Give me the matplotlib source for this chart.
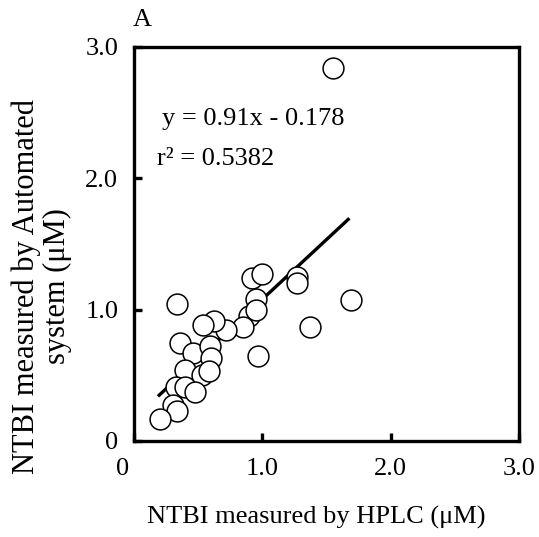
import matplotlib
matplotlib.use("Agg")
import matplotlib.pyplot as plt
import matplotlib.transforms as mtransforms
import numpy as np

plt.rcParams['font.family'] = ['Liberation Serif', 'DejaVu Serif']

# data
hplc = [1.55, 0.925, 0.997, 1.27, 1.27, 1.69, 1.37, 0.97, 0.95, 0.90, 0.95, 0.85,
        0.72, 0.63, 0.54, 0.335, 0.36, 0.465, 0.595, 0.60, 0.40, 0.53, 0.59,
        0.33, 0.40, 0.475, 0.31, 0.335, 0.205]
automated = [2.84, 1.24, 1.27, 1.25, 1.20, 1.07, 0.87, 0.65, 1.08, 0.95, 1.00, 0.87,
             0.845, 0.91, 0.88, 1.04, 0.745, 0.67, 0.72, 0.63, 0.54, 0.50, 0.53,
             0.41, 0.41, 0.375, 0.275, 0.225, 0.17]
fit_slope = 0.91
fit_intercept = 0.167
fit_range = [0.19, 1.68]

x_ticks = [0, 1.0, 2.0, 3.0]
x_tick_labels = ['0', '1.0', '2.0', '3.0']
y_ticks = [0, 1.0, 2.0, 3.0]
y_tick_labels = ['0', '1.0', '2.0', '3.0']

equation_text = 'y = 0.91x - 0.178'
r2_text = 'r² = 0.5382'
panel_label = 'A'
xlabel = 'NTBI measured by HPLC (μM)'
ylabel = 'NTBI measured by Automated\nsystem (μM)'

FS = 19

fig = plt.figure(figsize=(5.39, 5.37), dpi=100)
ax = fig.add_axes([0.2477, 0.1788, 0.7153, 0.7337])

fx = np.linspace(fit_range[0], fit_range[1], 50)
ax.plot(fx, fit_slope * fx + fit_intercept, color='black', lw=2.4, zorder=2,
        solid_capstyle='butt')
ax.plot(hplc, automated, 'o', ms=15, mfc='white', mec='black', mew=1.1,
        zorder=3, clip_on=False)

ax.set_xlim(0, 3.0)
ax.set_ylim(0, 3.0)
ax.set_xticks(x_ticks)
ax.set_xticklabels(x_tick_labels)
ax.set_yticks(y_ticks)
ax.set_yticklabels(y_tick_labels)
for s in ax.spines.values():
    s.set_linewidth(2.4)
ax.tick_params(direction='in', length=6, width=2.4, labelsize=FS, pad=12)
ax.tick_params(axis='y', pad=11)

# shift the x "0" label slightly left, as in the reference
lbl0 = ax.get_xticklabels()[0]
lbl0.set_transform(lbl0.get_transform() + mtransforms.ScaledTranslation(-11/100, 0, fig.dpi_scale_trans))

ax.set_xlabel(xlabel, fontsize=FS)
ax.set_ylabel(ylabel, fontsize=22, linespacing=1.08)
ax.xaxis.set_label_coords(0.475, -0.193)
ax.yaxis.set_label_coords(-0.239, 0.393)
ax.xaxis.label.set_va('center')
ax.yaxis.label.set_va('center')

ax.text(0.075, 0.818, equation_text, transform=ax.transAxes, fontsize=FS,
        ha='left', va='center')
ax.text(0.061, 0.716, r2_text, transform=ax.transAxes, fontsize=FS,
        ha='left', va='center')
fig.text(133/539, 1 - 20/537, panel_label, fontsize=FS, ha='left', va='center')

fig.savefig('out.png', dpi=100)
